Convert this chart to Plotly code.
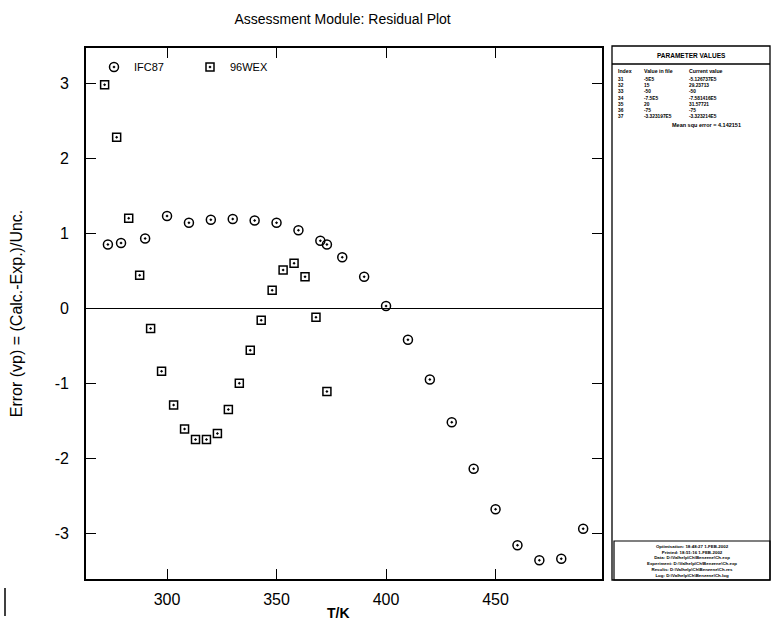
import plotly.graph_objects as go

# ---------------- data ----------------
ifc_T = [273, 279, 290, 300, 310, 320, 330, 340, 350, 360, 370, 373, 380, 390,
         400, 410, 420, 430, 440, 450, 460, 470, 480, 490]
ifc_err = [0.85, 0.87, 0.93, 1.23, 1.14, 1.18, 1.19, 1.17, 1.14, 1.04, 0.90, 0.85,
           0.68, 0.42, 0.03, -0.42, -0.95, -1.52, -2.14, -2.68, -3.16, -3.36, -3.34, -2.94]

wex_T = [271.5, 277, 282.5, 287.5, 292.5, 297.5, 303, 308, 313, 318, 323, 328,
         333, 338, 343, 348, 353, 358, 363, 368, 373]
wex_err = [2.98, 2.28, 1.20, 0.44, -0.27, -0.84, -1.29, -1.61, -1.75, -1.75, -1.67,
           -1.35, -1.00, -0.56, -0.16, 0.24, 0.51, 0.60, 0.42, -0.12, -1.11]

x_ticks = [300, 350, 400, 450]
x_labels = ["300", "350", "400", "450"]
y_ticks = [-3, -2, -1, 0, 1, 2, 3]
y_labels = ["-3", "-2", "-1", "0", "1", "2", "3"]

param_index = ["31", "32", "33", "34", "35", "36", "37"]
param_file = ["-5E5", "15", "-50", "-7.5E5", "20", "-75", "-3.323197E5"]
param_current = ["-5.126737E5", "29.23713", "-50", "-7.581416E5", "31.57721", "-75", "-3.323214E5"]
mean_sq_error = "Mean squ error = 4.142151"

info_lines = [
    "Optimisation: 18:48:27 1-FEB-2002",
    "Printed: 18:51:16 1-FEB-2002",
    "Data: D:\\Valhelp\\Ch\\Benzene\\Ch.exp",
    "Experiment: D:\\Valhelp\\Ch\\Benzene\\Ch.exp",
    "Results: D:\\Valhelp\\Ch\\Benzene\\Ch.res",
    "Log: D:\\Valhelp\\Ch\\Benzene\\Ch.log",
]

# ---------------- layout helpers ----------------
W, H = 772, 634
L, R, T, B = 86, 602, 48, 579   # plot area in pixels


def px(x):
    return (x - L) / (R - L)


def py(y):
    return (B - y) / (B - T)


FONT = "Liberation Sans, Arial, sans-serif"

fig = go.Figure()
fig.add_trace(go.Scatter(
    x=ifc_T, y=ifc_err, mode="markers", name="IFC87", showlegend=True,
    marker=dict(symbol="circle-open-dot", size=9, color="black", line=dict(width=1.5, color="black")),
    legend="legend",
))
fig.add_trace(go.Scatter(
    x=wex_T, y=wex_err, mode="markers", name="96WEX", showlegend=True,
    marker=dict(symbol="square-open-dot", size=8, color="black", line=dict(width=1.5, color="black")),
    legend="legend2",
))

axis_common = dict(
    showgrid=False, showline=True, linecolor="black", linewidth=1.6,
    mirror="ticks", ticks="inside", ticklen=10, tickwidth=1.3, tickcolor="black",
    tickfont=dict(family=FONT, size=16, color="black"),
)

fig.update_xaxes(
    range=[263, 498.6], tickvals=x_ticks, ticktext=x_labels, ticklabelstandoff=5,
    zeroline=False, **axis_common,
)
fig.update_yaxes(
    range=[-3.61, 3.47], tickvals=y_ticks, ticktext=y_labels, ticklabelstandoff=12,
    title=dict(text="Error (vp) = (Calc.-Exp.)/Unc.", font=dict(family=FONT, size=16, color="black"), standoff=28),
    zeroline=True, zerolinecolor="black", zerolinewidth=1.3, **axis_common,
)

shapes = []
# right panel
shapes.append(dict(type="rect", xref="paper", yref="paper", x0=px(612), x1=px(770), y0=py(580), y1=py(46),
                   line=dict(color="black", width=1.3)))
shapes.append(dict(type="line", xref="paper", yref="paper", x0=px(612), x1=px(770), y0=py(64), y1=py(64),
                   line=dict(color="black", width=1.3)))
shapes.append(dict(type="rect", xref="paper", yref="paper", x0=px(614), x1=px(770), y0=py(580), y1=py(541),
                   line=dict(color="black", width=1.2)))
# scan artefact bottom-left
shapes.append(dict(type="line", xref="paper", yref="paper", x0=px(5), x1=px(5), y0=py(588), y1=py(616),
                   line=dict(color="black", width=1.5)))

ann = []
ann.append(dict(text="<b>T/K</b>", x=px(338), y=py(613), xref="paper", yref="paper", showarrow=False,
                font=dict(family=FONT, size=14, color="black"), xanchor="center", yanchor="middle"))
ann.append(dict(text="<b>PARAMETER VALUES</b>", x=px(691), y=py(55), xref="paper", yref="paper",
                showarrow=False, font=dict(family=FONT, size=6.5, color="black"), xanchor="center", yanchor="middle"))
col_x = [617, 643, 688]
heads = ["Index", "Value in file", "Current value"]
TBL = 4.8
for cx, h, col in zip(col_x, heads, [param_index, param_file, param_current]):
    ann.append(dict(text="<b>" + h + "</b>", x=px(cx), y=py(70.5), xref="paper", yref="paper", showarrow=False,
                    font=dict(family=FONT, size=5.2, color="black"), xanchor="left", yanchor="middle",
                    borderpad=0))
    ann.append(dict(text="<br>".join("<b>" + v + "</b>" for v in col), x=px(cx), y=py(75.5),
                    xref="paper", yref="paper", showarrow=False, align="left",
                    font=dict(family=FONT, size=TBL, color="black"), xanchor="left", yanchor="top",
                    borderpad=0))
ann.append(dict(text="<b>" + mean_sq_error + "</b>", x=px(706), y=py(125), xref="paper", yref="paper",
                showarrow=False, font=dict(family=FONT, size=5.5, color="black"), xanchor="center", yanchor="middle",
                borderpad=0))
ann.append(dict(text="<br>".join("<b>" + s + "</b>" for s in info_lines), x=px(692), y=py(561), xref="paper",
                yref="paper", showarrow=False, align="center",
                font=dict(family=FONT, size=4.4, color="black"), xanchor="center", yanchor="middle", borderpad=0))

fig.update_layout(
    width=W, height=H,
    margin=dict(l=L, r=W - R, t=T, b=H - B, pad=0),
    paper_bgcolor="white", plot_bgcolor="white",
    showlegend=True,
    title=dict(text="Assessment Module: Residual Plot", x=px(315), xanchor="center", y=1 - 19 / H, yanchor="middle",
               font=dict(family=FONT, size=14, color="black")),
    font=dict(family=FONT, color="black"),
    legend=dict(x=px(94), y=py(67), xanchor="left", yanchor="middle", bgcolor="rgba(0,0,0,0)",
                font=dict(family=FONT, size=11, color="black"), borderwidth=0),
    legend2=dict(x=px(190), y=py(67), xanchor="left", yanchor="middle", bgcolor="rgba(0,0,0,0)",
                 font=dict(family=FONT, size=11, color="black"), borderwidth=0),
    shapes=shapes, annotations=ann,
)

fig.write_html("out.html")
